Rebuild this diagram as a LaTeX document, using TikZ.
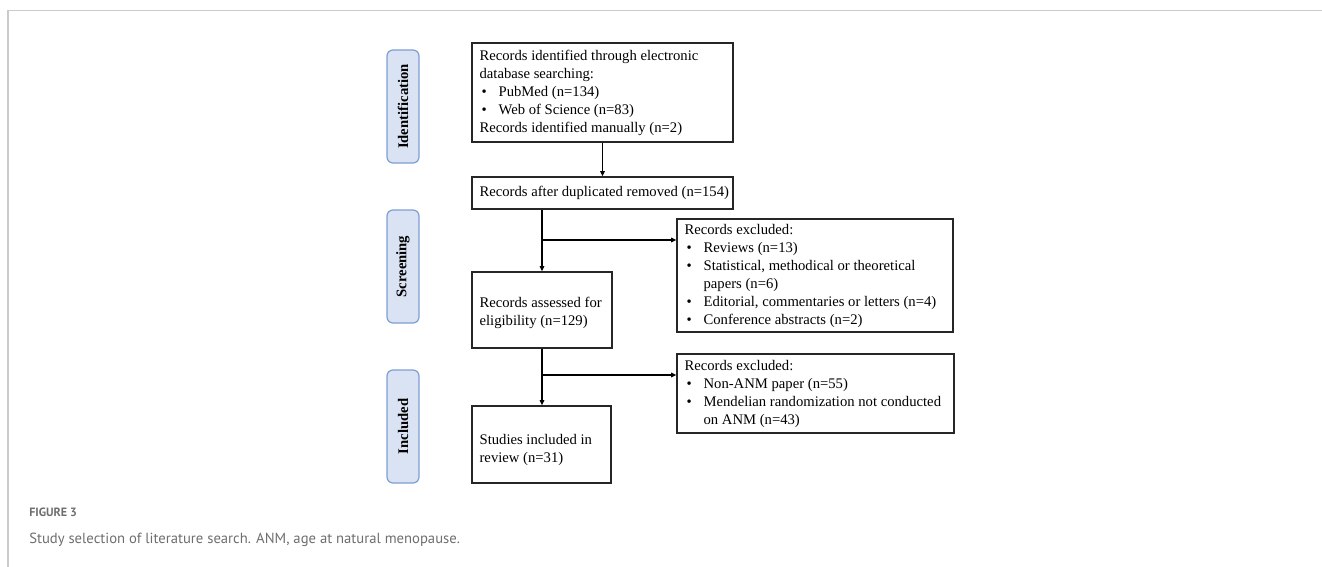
\documentclass[tikz,border=0pt]{standalone}
\usepackage{fontspec}
\setmainfont{Liberation Serif}
\newfontfamily\capfont{PT Sans}
\usetikzlibrary{arrows.meta,calc}
\definecolor{lblfill}{HTML}{DAE3F3}
\definecolor{lbldraw}{HTML}{7F9ED4}
\definecolor{capgray}{HTML}{6D6E70}
\definecolor{framegray}{HTML}{CBCBCB}
\newcommand{\bl}[1]{\makebox[14.25pt][l]{\hspace{1.5pt}\textbullet}#1}
\newcommand{\bc}[1]{\hspace*{14.25pt}#1}
\begin{document}
\begin{tikzpicture}[x=0.75pt,y=-0.75pt,
  box/.style={draw=black!85, line width=1pt, inner sep=0pt},
  txt/.style={anchor=west, align=left, inner sep=0pt, font=\fontsize{11pt}{13.5pt}\selectfont},
  stage/.style={draw=lbldraw, fill=lblfill, line width=0.9pt, rounded corners=4.5pt, rotate=90,
    minimum width=84.75pt, minimum height=24pt, inner sep=0pt, font=\fontsize{11pt}{13pt}\selectfont\bfseries},
  arr/.style={line width=0.8pt, -{Triangle[length=4pt,width=3.5pt]}},
  capa/.style={anchor=west, inner sep=0pt, text=capgray}]
\useasboundingbox (0,0) rectangle (1322,567);
\draw[framegray, line width=1.2pt] (8,567) -- (8,10.5) -- (1322,10.5);

% stage labels
\node[stage] (sid) at (403,106.5) {Identification};
\node[stage] (ssc) at (403,266.5) {Screening};
\node[stage] (sin) at (403,426.5) {Included};

% boxes
\node[box, minimum width=195.75pt, minimum height=74.25pt] (b1) at (602.5,92.5) {};
\node[box, minimum width=195.75pt, minimum height=24pt] (b2) at (602.5,193) {};
\node[box, minimum width=105pt, minimum height=57pt] (b3) at (542,310) {};
\node[box, minimum width=104.25pt, minimum height=57.75pt] (b4) at (541.5,444.5) {};
\node[box, minimum width=207pt, minimum height=84.75pt] (e1) at (815,275.5) {};
\node[box, minimum width=207.75pt, minimum height=59.25pt] (e2) at (815.5,393.5) {};

% texts
\node[txt] (t1) at ($(b1.west)+(8,0)$) {Records identified through electronic\\database searching:\\\bl{PubMed (n=134)}\\\bl{Web of Science (n=83)}\\Records identified manually (n=2)};
\node[txt] (t2) at ($(b2.west)+(8,0)$) {Records after duplicated removed (n=154)};
\node[txt] (t3) at ($(b3.west)+(8,3)$) {Records assessed for\\eligibility (n=129)};
\node[txt] (t4) at ($(b4.west)+(8,5)$) {Studies included in\\review (n=31)};
\node[txt] (t5) at ($(e1.west)+(8,0)$) {Records excluded:\\\bl{Reviews (n=13)}\\\bl{Statistical, methodical or theoretical}\\\bc{papers (n=6)}\\\bl{Editorial, commentaries or letters (n=4)}\\\bl{Conference abstracts (n=2)}};
\node[txt] (t6) at ($(e2.west)+(8,0)$) {Records excluded:\\\bl{Non-ANM paper (n=55)}\\\bl{Mendelian randomization not conducted}\\\bc{on ANM (n=43)}};

% connectors
\draw[arr] (b1.south) -- (b2.north);
\draw[arr] (b3.north |- b2.south) -- (b3.north);
\coordinate (j1) at (542,240);
\draw[arr] (j1) -- (j1 -| e1.west);
\draw[arr] (b3.south) -- (b3.south |- b4.north);
\coordinate (j2) at (542,375);
\draw[arr] (j2) -- (j2 -| e2.west);

% caption
\node[capa, font=\capfont\bfseries\fontsize{9pt}{11pt}\selectfont] (figlbl) at (29,512) {FIGURE 3};
\node[capa, font=\capfont\fontsize{11pt}{13pt}\selectfont] (cap) at (29,540) {Study selection of literature search. ANM, age at natural menopause.};
\end{tikzpicture}
\end{document}
